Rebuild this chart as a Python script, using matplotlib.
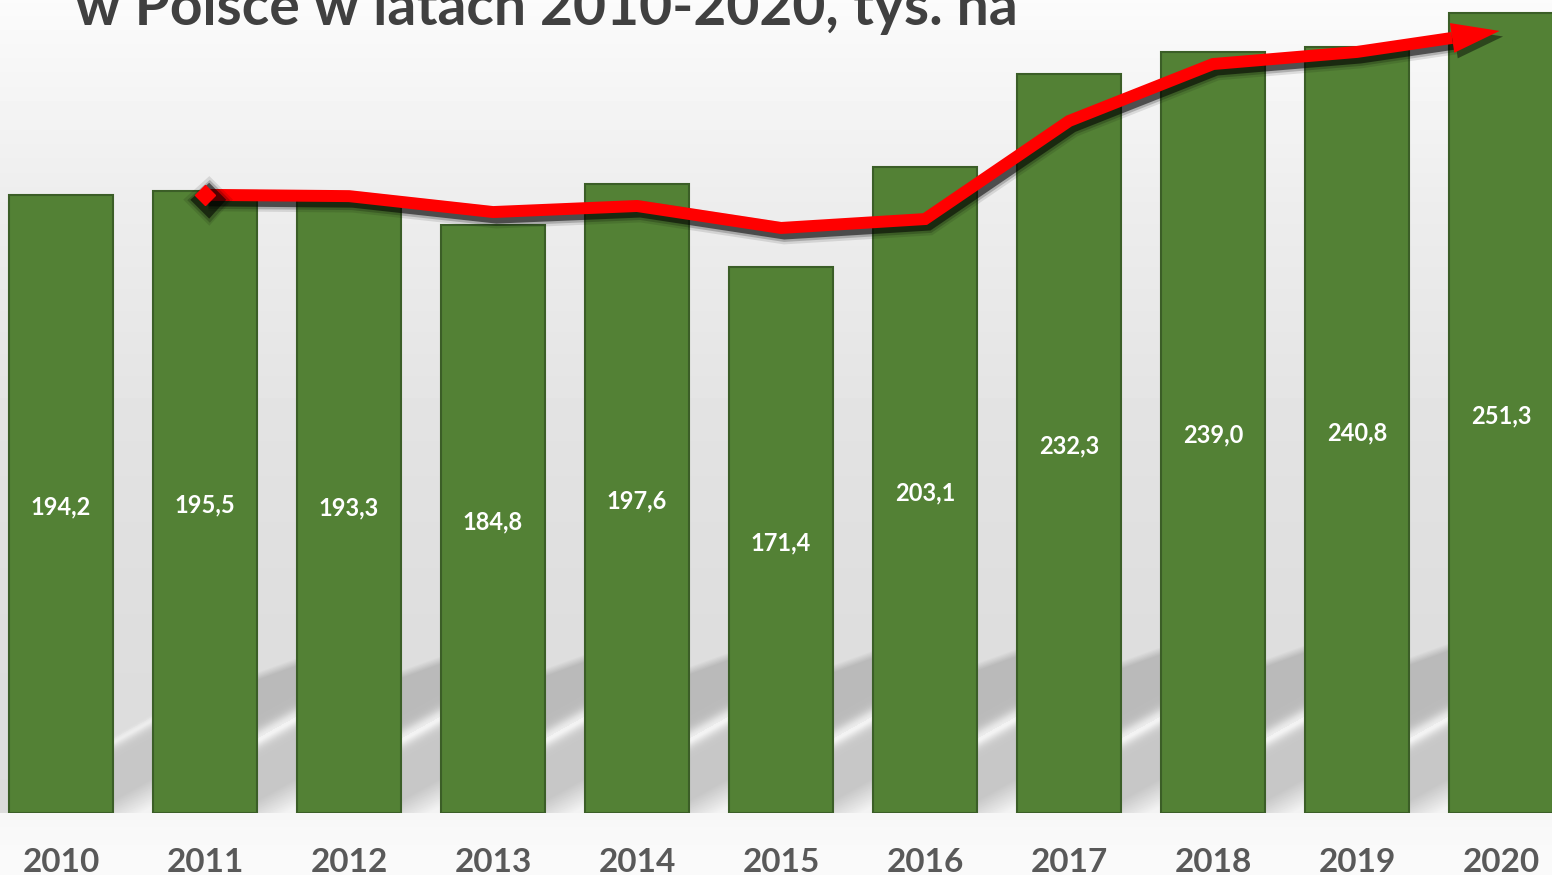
import numpy as np
import matplotlib.pyplot as plt
from matplotlib import patheffects as pe
from matplotlib.patches import Polygon

# ---------------- data ----------------
years = ['2010', '2011', '2012', '2013', '2014', '2015',
         '2016', '2017', '2018', '2019', '2020']
area = [194.2, 195.5, 193.3, 184.8, 197.6, 171.4,
        203.1, 232.3, 239.0, 240.8, 251.3]
value_labels = ['194,2', '195,5', '193,3', '184,8', '197,6', '171,4',
                '203,1', '232,3', '239,0', '240,8', '251,3']
# hand drawn red trend arrow (year index, value)
trend_x = [1, 2, 3, 4, 5, 6, 7, 8, 9]
trend_y = [194.2, 193.8, 188.8, 190.7, 183.8, 186.6, 217.4, 235.3, 239.1]
arrow_tip = (9.99, 245.7)
title = 'w Polsce w latach 2010-2020, tys. ha'

FONT = ['Lato', 'DejaVu Sans']
W, H = 1552, 875
BASE = 813  # pixel row of the bar baseline

fig = plt.figure(figsize=(W / 100, H / 100), dpi=100)

# ================= background =================
bg = fig.add_axes([0, 0, 1, 1])
bg.axis('off')

ax = fig.add_axes([0, (H - BASE) / H, 1, BASE / H])
ax.set_xlim(-0.424, 10.354)
ax.set_ylim(0, BASE / 3.183)
ax.axis('off')

bar_w = 0.72
# gap geometry in pixels, taken from the axes transform
x_r0 = ax.transData.transform((0 + bar_w / 2, 0))[0]
period = ax.transData.transform((1, 0))[0] - ax.transData.transform((0, 0))[0]

yy, xx = np.mgrid[0:H, 0:W].astype(float)
img = np.interp(yy, [0, 60, 200, 450, 650, BASE],
                [0.985, 0.968, 0.93, 0.885, 0.868, 0.862])
u = np.mod(xx - x_r0, period)

# reflection of the bars on the "floor"
d = yy + 0.56 * u
refl = np.where(d < 738, 0.73, 0.78)
refl = refl + 0.19 * np.exp(-((d - 738) / 9) ** 2)
refl = refl + np.clip((d - 800) / 28, 0, 1) * 0.17
refl = np.minimum(refl, 0.95)
d_top = yy + 0.35 * u - (675 - 20 * xx / W)
top_on = np.clip(d_top / 8, 0, 1) * np.clip((xx - 200) / 5, 0, 1)
# first gap: only the part under the streak is shaded
low_on = np.clip((d - 735) / 8, 0, 1) * np.clip((xx - 100) / 5, 0, 1)
in_band = np.maximum(top_on, low_on)
img = img * (1 - in_band) + refl * in_band
below = yy >= BASE
img[below] = np.interp(yy[below], [BASE, 830, H], [0.965, 0.975, 0.98])
bg.imshow(img, cmap='gray', vmin=0, vmax=1, extent=(0, W, H, 0),
          aspect='auto', interpolation='bilinear')
bg.set_xlim(0, W)
bg.set_ylim(H, 0)

# ================= bars =================
xs = np.arange(len(years))
ax.bar(xs, area, width=bar_w, color='#538135', edgecolor='#3b5e27',
       linewidth=1.5, zorder=2)
for x, v, lab in zip(xs, area, value_labels):
    ax.annotate(lab, (x, v / 2), xytext=(0, -2), textcoords='offset points',
                ha='center', va='center', color='white',
                fontsize=17, fontweight='bold', family=FONT, zorder=3)

for x, yr in zip(xs, years):
    ax.text(x, -(H - 3 - BASE) / 3.183, yr, ha='center', va='baseline',
            color='#595959', fontsize=24, fontweight='bold', family=FONT,
            clip_on=False)

# ================= red arrow =================
lw = 8.6
shadow = [pe.SimpleLineShadow(offset=(2.5, -4), shadow_color='black',
                              alpha=0.1, linewidth=lw + 7),
          pe.SimpleLineShadow(offset=(2.5, -4), shadow_color='black',
                              alpha=0.2, linewidth=lw + 3.5),
          pe.SimpleLineShadow(offset=(2.5, -4), shadow_color='black',
                              alpha=0.55, linewidth=lw),
          pe.Normal()]

tip_d = ax.transData.transform(arrow_tip)
prev_d = ax.transData.transform((trend_x[-1], trend_y[-1]))
dvec = (tip_d - prev_d) / np.hypot(*(tip_d - prev_d))
perp = np.array([-dvec[1], dvec[0]])
head_len, head_half = 48, 15
base_d = tip_d - head_len * dvec
base_data = ax.transData.inverted().transform(base_d)

ax.plot(trend_x + [base_data[0]], trend_y + [base_data[1]], color='red',
        lw=lw, marker='D', markevery=[0], ms=10, solid_joinstyle='miter',
        solid_capstyle='butt', path_effects=shadow, zorder=4)

head = np.array([tip_d, base_d + head_half * perp, base_d - head_half * perp])
head_data = ax.transData.inverted().transform(head)
ax.add_patch(Polygon(head_data, closed=True, facecolor='red', lw=0, zorder=5,
                     path_effects=[pe.SimplePatchShadow(offset=(2.5, -4),
                                                        shadow_rgbFace='black',
                                                        alpha=0.45),
                                   pe.Normal()]))

# ================= title (partly cut off at the top) =================
fig.text(75 / W, 1 - 25 / H, title, ha='left', va='baseline', fontsize=41,
         fontweight='bold', color='#404040', family=FONT)

fig.savefig('out.png', dpi=100)
